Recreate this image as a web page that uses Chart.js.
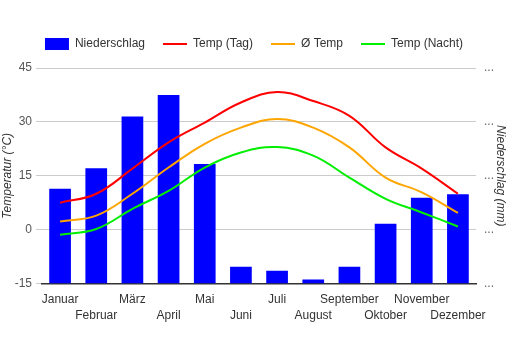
<!DOCTYPE html>
<html>
<head>
<meta charset="utf-8">
<script src="https://cdn.jsdelivr.net/npm/chart.js@4/dist/chart.umd.min.js"></script>
<style>
html,body{margin:0;padding:0;background:#fff;}
#wrap{width:508px;height:350px;}
</style>
</head>
<body>
<div id="wrap"><canvas id="c" width="508" height="350"></canvas></div>
<script>
const months = ['Januar','Februar','März','April','Mai','Juni','Juli','August','September','Oktober','November','Dezember'];
const precipitation = [88, 107, 155, 175, 111, 15.7, 12, 3.7, 15.7, 55.6, 79.6, 83];
const tempDay = [7.5, 10, 17, 24.3, 29.8, 35.4, 38.3, 35.8, 31.7, 22.9, 17, 10];
const tempAvg = [2.3, 3.9, 10, 17.3, 23.9, 28.4, 30.8, 28.4, 22.9, 14.5, 10.4, 4.7];
const tempNight = [-1.4, 0.2, 5.8, 10.8, 17.3, 21.5, 23, 20.6, 14.5, 8.6, 4.8, 0.9];
const tempTicks = [-15, 0, 15, 30, 45];

Chart.defaults.font.family = '"Liberation Sans", Arial, sans-serif';
Chart.defaults.font.size = 12;
Chart.defaults.color = '#444';

const legendSpace = {
  id:'legendSpace',
  beforeInit(chart){
    const fit = chart.legend.fit;
    chart.legend.fit = function(){ fit.bind(chart.legend)(); this.height += 8; };
  }
};

new Chart(document.getElementById('c'), {
  data: {
    labels: months.map((m, i) => i % 2 === 0 ? m : ['', m]),
    datasets: [
      {type:'bar', label:'Niederschlag', data:precipitation, yAxisID:'y1', backgroundColor:'#0000ff', borderWidth:0, order:2, barPercentage:0.6, categoryPercentage:1, pointStyle:'rect'},
      {type:'line', label:'Temp (Tag)', data:tempDay, yAxisID:'y', borderColor:'#ff0000', backgroundColor:'#ff0000', borderWidth:2, pointRadius:0, tension:0.4, order:1, pointStyle:'line'},
      {type:'line', label:'Ø Temp', data:tempAvg, yAxisID:'y', borderColor:'#ffa500', backgroundColor:'#ffa500', borderWidth:2, pointRadius:0, tension:0.4, order:1, pointStyle:'line'},
      {type:'line', label:'Temp (Nacht)', data:tempNight, yAxisID:'y', borderColor:'#00ee00', backgroundColor:'#00ee00', borderWidth:2, pointRadius:0, tension:0.4, order:1, pointStyle:'line'}
    ]
  },
  plugins:[legendSpace],
  options: {
    responsive:false,
    animation:false,
    layout:{padding:{top:20,bottom:18,left:0,right:0}},
    plugins:{
      tooltip:{enabled:false},
      legend:{
        position:'top',
        labels:{usePointStyle:true, pointStyleWidth:24, boxHeight:13, padding:18, color:'#333', font:{size:12},
          sort:(a,b)=>a.datasetIndex-b.datasetIndex}
      }
    },
    scales:{
      x:{
        grid:{display:false, drawTicks:false},
        border:{display:true, color:'#333', width:1.5},
        ticks:{autoSkip:false, maxRotation:0, minRotation:0, color:'#333', padding:8, font:{size:12, lineHeight:1.35}}
      },
      y:{
        position:'left', min:-15, max:45,
        afterBuildTicks: ax => { ax.ticks = tempTicks.map(v => ({value:v})); },
        afterFit: ax => { ax.width = 42; },
        grid:{color:'#cccccc', tickLength:6, drawTicks:true},
        border:{display:false},
        ticks:{color:'#555', padding:4, font:{size:12}},
        title:{display:true, text:'Temperatur (°C)', color:'#333', font:{size:12, style:'italic'}, padding:0}
      },
      y1:{
        position:'right', min:0, max:200,
        ticks:{stepSize:50, color:'#666', padding:4, callback:()=>'...', font:{size:12}},
        afterFit: ax => { ax.width = 32; },
        grid:{display:false, drawTicks:true, tickLength:4},
        border:{display:false},
        title:{display:true, text:'Niederschlag (mm)', color:'#333', font:{size:12, style:'italic'}, padding:0}
      }
    }
  }
});
</script>
</body>
</html>
